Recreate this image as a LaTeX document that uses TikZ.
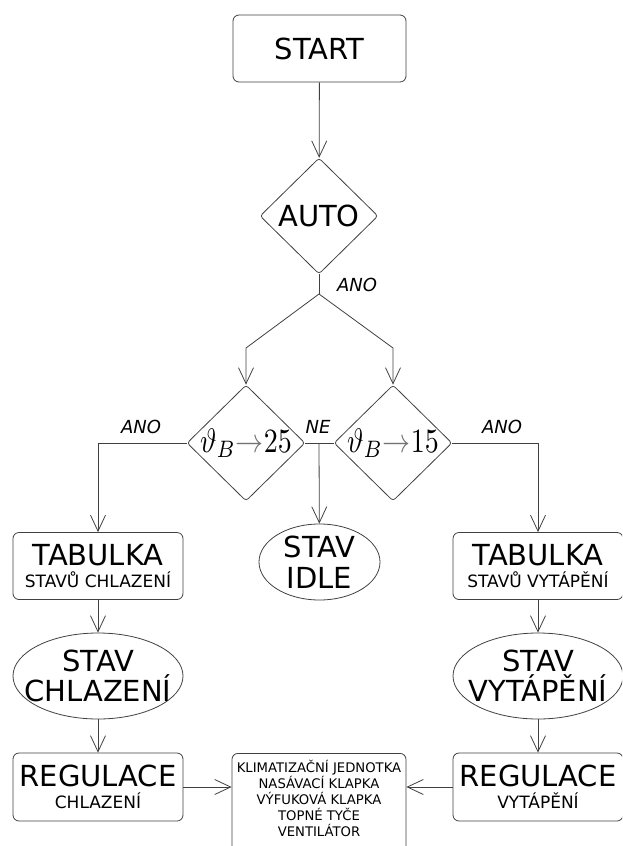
\documentclass[tikz,border=0pt]{standalone}
\usepackage{fontspec}
\setmainfont{DejaVu Sans}
\usetikzlibrary{shapes.geometric,arrows.meta}

\newcommand\bigtxt[1]{{\fontsize{29}{30}\selectfont #1}}
\newcommand\teplota[1]{\scalebox{2.8}[3.4]{$\vartheta_B\textcolor{black!55}{\rightarrow}#1$}}

\begin{document}
\begin{tikzpicture}[x=1pt, y=-1pt, line width=0.8pt,
	box/.style={draw=black!75, rectangle, rounded corners=6pt, minimum width=170pt, minimum height=67pt, inner sep=0pt, align=center, font=\fontsize{17}{22}\selectfont},
	cond/.style={draw=black!75, diamond, rounded corners=3pt, minimum width=118pt, minimum height=116pt, inner sep=0pt},
	state/.style={draw=black!75, ellipse, minimum width=170pt, minimum height=86pt, inner sep=0pt},
	lab/.style={font=\itshape\fontsize{18}{18}\selectfont},
	flow/.style={draw=black!75, -{Straight Barb[length=16pt, width=15pt]}},
]
\useasboundingbox (0,0) rectangle (622,846);
\clip (0,0) rectangle (622,846);

\node[box, minimum width=173pt] (start) at (319.5,48.5) {\bigtxt{START}};
\node[cond] (auto) at (319,216) {\bigtxt{AUTO}};
\coordinate (split) at (319,294);
\coordinate (bl) at (246,348);
\coordinate (br) at (393,348);

% podminky na teplotu
\node[cond, label=center:{\teplota{25}}] (dl) at (246,443) {};
\node[cond, label=center:{\teplota{15}}] (dr) at (393,443) {};
\coordinate (ne) at (319,443);

\node[state, minimum width=121pt, minimum height=76pt, label=center:{\parbox{3cm}{\centering\fontsize{29}{31}\selectfont STAV\\IDLE}}] (idle) at (319.5,562) {};

% chlazeni
\node[box] (tl) at (98,566) {\bigtxt{TABULKA}\\STAVŮ CHLAZENÍ};
\node[state, label=center:{\parbox{6cm}{\centering\fontsize{29}{30}\selectfont STAV\\CHLAZENÍ}}] (sl) at (98,676) {};
\node[box, minimum height=68pt] (rl) at (98,787) {\bigtxt{REGULACE}\\CHLAZENÍ};

% vytapeni
\node[box] (tr) at (538,566) {\bigtxt{TABULKA}\\STAVŮ VYTÁPĚNÍ};
\node[state, label=center:{\parbox{6cm}{\centering\fontsize{29}{30}\selectfont STAV\\VYTÁPĚNÍ}}] (sr) at (538,676) {};
\node[box, minimum height=68pt] (rr) at (538,787) {\bigtxt{REGULACE}\\VYTÁPĚNÍ};

\node[draw=black!75, rounded corners=6pt, anchor=north, minimum width=174pt, inner ysep=7pt, align=center, font=\fontsize{13.2}{16}\selectfont] (out) at (319,753)
	{KLIMATIZAČNÍ JEDNOTKA\\NASÁVACÍ KLAPKA\\VÝFUKOVÁ KLAPKA\\TOPNÉ TYČE\\VENTILÁTOR\\ };

\node[lab] (ano) at (357,285) {ANO};
\node[lab] (anol) at (141,427) {ANO};
\node[lab] (nel) at (318,427) {NE};
\node[lab] (anor) at (502,427) {ANO};

\foreach \u \v in {
start/auto%
,tl/sl%
,sl/rl%
,tr/sr%
,sr/rr%
}{
	\draw[flow] (\u) -- (\v);
}

\draw[draw=black!75] (auto) -- (split);
\draw[flow] (split) -- (bl) -- (dl);
\draw[flow] (split) -- (br) -- (dr);
\draw[draw=black!75] (dl.east) -- (dr.west);
\draw[flow] (ne) -- (idle);
\draw[flow] (dl.west) -| (tl);
\draw[flow] (dr.east) -| (tr);
\draw[flow] (rl.east) -- (rl.east -| out.west);
\draw[flow] (rr.west) -- (rr.west -| out.east);

\end{tikzpicture}
\end{document}
